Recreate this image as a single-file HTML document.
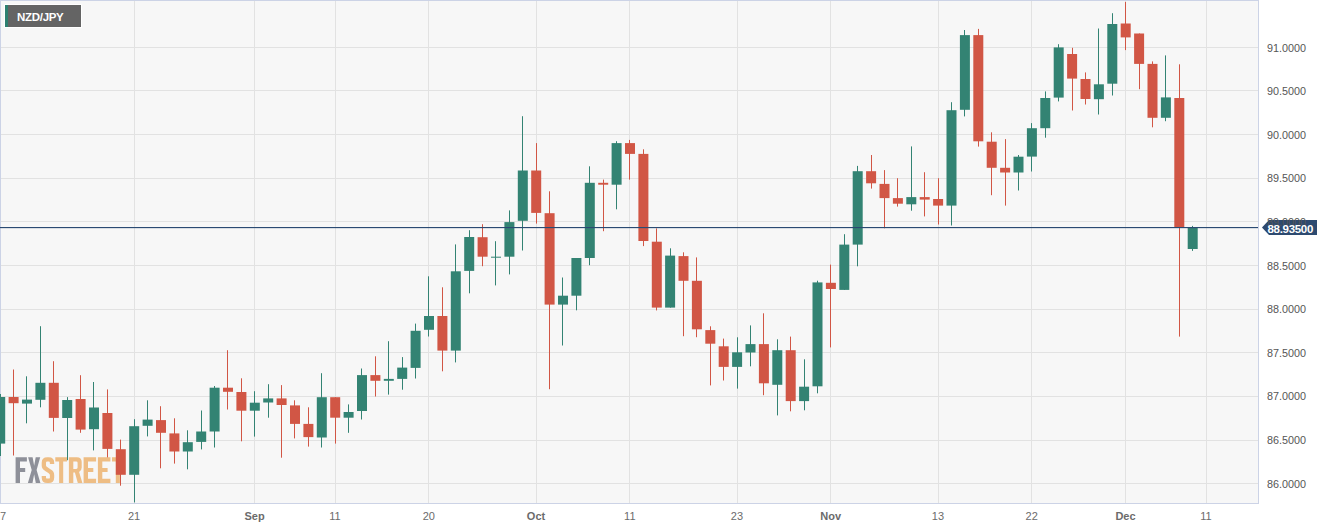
<!DOCTYPE html>
<html><head><meta charset="utf-8"><style>
html,body{margin:0;padding:0;background:#fff;}
body{width:1323px;height:529px;position:relative;overflow:hidden;font-family:"Liberation Sans",sans-serif;}
svg{position:absolute;left:0;top:0;}
.yl{position:absolute;left:1267px;font-size:10.8px;line-height:14px;color:#555;}
.xl{position:absolute;top:509px;width:60px;text-align:center;font-size:11px;line-height:14px;color:#6b6b6b;}
.xl.b{font-weight:bold;}
.tag{position:absolute;left:4px;top:4px;width:78px;height:24px;background:#646464;border:1px solid #fff;box-sizing:border-box;}
.tag i{position:absolute;left:0;top:0;width:3px;height:22px;background:#2e8070;}
.tag span{position:absolute;left:12px;top:6px;font-size:11.5px;font-weight:bold;color:#fff;line-height:13px;letter-spacing:-0.3px;}
.plab{position:absolute;left:1262px;top:220px;width:55px;height:15px;}
.plab span{position:absolute;left:5.5px;top:3px;font-size:11.5px;letter-spacing:-0.3px;font-weight:bold;color:#fff;line-height:13px;}
</style></head><body>
<svg width="1323" height="529" viewBox="0 0 1323 529">
<rect x="0" y="0" width="1258" height="503" fill="#f7f7f7"/>
<g stroke="#e2e2e2" stroke-width="1"><line x1="0" y1="47.5" x2="1258" y2="47.5"/><line x1="0" y1="90.5" x2="1258" y2="90.5"/><line x1="0" y1="134.5" x2="1258" y2="134.5"/><line x1="0" y1="178.5" x2="1258" y2="178.5"/><line x1="0" y1="221.5" x2="1258" y2="221.5"/><line x1="0" y1="265.5" x2="1258" y2="265.5"/><line x1="0" y1="309.5" x2="1258" y2="309.5"/><line x1="0" y1="352.5" x2="1258" y2="352.5"/><line x1="0" y1="396.5" x2="1258" y2="396.5"/><line x1="0" y1="440.5" x2="1258" y2="440.5"/><line x1="0" y1="483.5" x2="1258" y2="483.5"/><line x1="134.5" y1="0" x2="134.5" y2="503"/><line x1="254.5" y1="0" x2="254.5" y2="503"/><line x1="335.5" y1="0" x2="335.5" y2="503"/><line x1="428.5" y1="0" x2="428.5" y2="503"/><line x1="536.5" y1="0" x2="536.5" y2="503"/><line x1="629.5" y1="0" x2="629.5" y2="503"/><line x1="737.5" y1="0" x2="737.5" y2="503"/><line x1="830.5" y1="0" x2="830.5" y2="503"/><line x1="938.5" y1="0" x2="938.5" y2="503"/><line x1="1031.5" y1="0" x2="1031.5" y2="503"/><line x1="1125.5" y1="0" x2="1125.5" y2="503"/><line x1="1206.5" y1="0" x2="1206.5" y2="503"/></g>
<g fill="#8e9099"><path d="M15.6 457.2h11.3v4.2h-6.9v6.7h5.2v3.8h-5.2v11h-4.4z"/><path d="M28.1 457.2h4.5l1.55 8.6l1.55-8.6h4.5l-3.6 12.7l3.8 13h-4.6l-1.65-8.6l-1.65 8.6h-4.6l3.8-13z"/></g><g fill="#eebd84" stroke="#eebd84"><path fill="none" stroke-width="4.3" d="M52.050000000000004 464v-1.3q0-3.35-3.35-3.35h-1.5q-3.35 0-3.35 3.35v2.8q0 2.2 2.2 3.4l3.8 2.6q2.2 1.2 2.2 3.4v2.5q0 3.35-3.35 3.35h-1.5q-3.35 0-3.35-3.35v-1.5"/></g><g fill="#eebd84"><path d="M55.3 457.2h11.7v4.2h-3.8v21.5h-4.1v-21.5h-3.8z"/><path d="M68.9 457.2h8q4.8 0 4.8 4.8v5.6q0 3.2-2.6 4.3l3.3 11h-4.6l-2.9-10.4h-1.6v10.4h-4.4zM73.30000000000001 461.4v7.5h2.9q1.4 0 1.4-1.4v-4.7q0-1.4-1.4-1.4z"/><path d="M83.6 457.2h12.5v4.2h-8.1v6.7h5.3v3.8h-5.3v6.8h8.1v4.2h-12.5z"/><path d="M97.9 457.2h12.5v4.2h-8.1v6.7h5.3v3.8h-5.3v6.8h8.1v4.2h-12.5z"/><path d="M112 457.2h11.7v4.2h-3.8v21.5h-4.1v-21.5h-3.8z"/></g>
<rect x="0.5" y="0.5" width="1258" height="503" fill="none" stroke="#ccd3e6" stroke-width="1"/>
<rect x="0.0" y="394.0" width="1" height="62.0" fill="#338373"/><rect x="-4.8" y="397.0" width="10" height="46.6" fill="#338373"/><rect x="13.0" y="369.5" width="1" height="86.0" fill="#d15645"/><rect x="8.6" y="397.0" width="10" height="6.2" fill="#d15645"/><rect x="26.0" y="376.3" width="1" height="47.0" fill="#338373"/><rect x="22.0" y="399.6" width="10" height="4.0" fill="#338373"/><rect x="40.0" y="326.2" width="1" height="81.1" fill="#338373"/><rect x="35.4" y="382.8" width="10" height="17.0" fill="#338373"/><rect x="53.0" y="361.2" width="1" height="70.3" fill="#d15645"/><rect x="48.8" y="382.8" width="10" height="35.1" fill="#d15645"/><rect x="67.0" y="397.1" width="1" height="63.1" fill="#338373"/><rect x="62.2" y="400.0" width="10" height="18.0" fill="#338373"/><rect x="80.0" y="375.2" width="1" height="57.6" fill="#d15645"/><rect x="75.6" y="399.0" width="10" height="30.6" fill="#d15645"/><rect x="93.0" y="382.0" width="1" height="68.4" fill="#338373"/><rect x="89.0" y="407.5" width="10" height="21.7" fill="#338373"/><rect x="107.0" y="389.4" width="1" height="68.0" fill="#d15645"/><rect x="102.4" y="413.0" width="10" height="35.9" fill="#d15645"/><rect x="120.0" y="439.6" width="1" height="46.1" fill="#d15645"/><rect x="115.8" y="449.2" width="10" height="25.6" fill="#d15645"/><rect x="134.0" y="419.2" width="1" height="83.2" fill="#338373"/><rect x="129.2" y="426.2" width="10" height="48.6" fill="#338373"/><rect x="147.0" y="400.3" width="1" height="36.1" fill="#338373"/><rect x="142.6" y="419.6" width="10" height="6.2" fill="#338373"/><rect x="160.0" y="406.2" width="1" height="62.1" fill="#d15645"/><rect x="156.0" y="420.1" width="10" height="12.7" fill="#d15645"/><rect x="174.0" y="418.3" width="1" height="45.3" fill="#d15645"/><rect x="169.4" y="433.4" width="10" height="18.1" fill="#d15645"/><rect x="187.0" y="430.3" width="1" height="39.0" fill="#338373"/><rect x="182.8" y="442.2" width="10" height="9.3" fill="#338373"/><rect x="201.0" y="410.5" width="1" height="38.9" fill="#338373"/><rect x="196.2" y="431.5" width="10" height="10.4" fill="#338373"/><rect x="214.0" y="386.0" width="1" height="61.5" fill="#338373"/><rect x="209.6" y="387.7" width="10" height="43.8" fill="#338373"/><rect x="227.0" y="350.2" width="1" height="59.3" fill="#d15645"/><rect x="223.0" y="387.7" width="10" height="4.1" fill="#d15645"/><rect x="241.0" y="378.3" width="1" height="63.0" fill="#d15645"/><rect x="236.4" y="392.0" width="10" height="18.7" fill="#d15645"/><rect x="254.0" y="391.2" width="1" height="45.4" fill="#338373"/><rect x="249.8" y="402.7" width="10" height="8.0" fill="#338373"/><rect x="268.0" y="384.2" width="1" height="33.5" fill="#338373"/><rect x="263.2" y="398.4" width="10" height="4.1" fill="#338373"/><rect x="281.0" y="385.1" width="1" height="72.6" fill="#d15645"/><rect x="276.6" y="398.4" width="10" height="6.6" fill="#d15645"/><rect x="294.0" y="400.3" width="1" height="38.1" fill="#d15645"/><rect x="290.0" y="405.4" width="10" height="18.5" fill="#d15645"/><rect x="308.0" y="407.3" width="1" height="39.3" fill="#d15645"/><rect x="303.4" y="423.9" width="10" height="13.2" fill="#d15645"/><rect x="321.0" y="373.2" width="1" height="74.3" fill="#338373"/><rect x="316.8" y="397.2" width="10" height="40.3" fill="#338373"/><rect x="335.0" y="397.2" width="1" height="46.4" fill="#d15645"/><rect x="330.2" y="397.2" width="10" height="20.5" fill="#d15645"/><rect x="348.0" y="404.4" width="1" height="28.4" fill="#338373"/><rect x="343.6" y="412.0" width="10" height="5.7" fill="#338373"/><rect x="361.0" y="368.5" width="1" height="51.0" fill="#338373"/><rect x="357.0" y="375.1" width="10" height="35.9" fill="#338373"/><rect x="375.0" y="356.3" width="1" height="40.2" fill="#d15645"/><rect x="370.4" y="375.1" width="10" height="5.7" fill="#d15645"/><rect x="388.0" y="341.2" width="1" height="53.4" fill="#338373"/><rect x="383.8" y="378.9" width="10" height="1.9" fill="#338373"/><rect x="402.0" y="357.1" width="1" height="32.6" fill="#338373"/><rect x="397.2" y="367.6" width="10" height="11.3" fill="#338373"/><rect x="415.0" y="323.6" width="1" height="54.9" fill="#338373"/><rect x="410.6" y="330.8" width="10" height="37.1" fill="#338373"/><rect x="428.0" y="276.3" width="1" height="60.2" fill="#338373"/><rect x="424.0" y="316.0" width="10" height="13.8" fill="#338373"/><rect x="442.0" y="287.3" width="1" height="84.0" fill="#d15645"/><rect x="437.4" y="316.0" width="10" height="34.6" fill="#d15645"/><rect x="455.0" y="244.4" width="1" height="118.0" fill="#338373"/><rect x="450.8" y="271.3" width="10" height="79.3" fill="#338373"/><rect x="469.0" y="230.2" width="1" height="63.1" fill="#338373"/><rect x="464.2" y="237.0" width="10" height="33.9" fill="#338373"/><rect x="482.0" y="224.2" width="1" height="42.0" fill="#d15645"/><rect x="477.6" y="237.2" width="10" height="19.5" fill="#d15645"/><rect x="495.0" y="241.2" width="1" height="44.2" fill="#338373"/><rect x="491.0" y="256.7" width="10" height="1.0" fill="#338373"/><rect x="509.0" y="210.4" width="1" height="64.0" fill="#338373"/><rect x="504.4" y="222.1" width="10" height="34.6" fill="#338373"/><rect x="522.0" y="116.2" width="1" height="134.3" fill="#338373"/><rect x="517.8" y="170.5" width="10" height="50.3" fill="#338373"/><rect x="536.0" y="143.1" width="1" height="80.5" fill="#d15645"/><rect x="531.2" y="170.5" width="10" height="42.4" fill="#d15645"/><rect x="549.0" y="191.3" width="1" height="197.9" fill="#d15645"/><rect x="544.6" y="213.2" width="10" height="91.4" fill="#d15645"/><rect x="562.0" y="277.5" width="1" height="68.0" fill="#338373"/><rect x="558.0" y="295.7" width="10" height="8.9" fill="#338373"/><rect x="576.0" y="258.0" width="1" height="52.3" fill="#338373"/><rect x="571.4" y="258.0" width="10" height="37.7" fill="#338373"/><rect x="589.0" y="166.3" width="1" height="98.9" fill="#338373"/><rect x="584.8" y="182.8" width="10" height="75.2" fill="#338373"/><rect x="603.0" y="179.6" width="1" height="51.6" fill="#d15645"/><rect x="598.2" y="182.8" width="10" height="1.9" fill="#d15645"/><rect x="616.0" y="141.2" width="1" height="68.1" fill="#338373"/><rect x="611.6" y="143.1" width="10" height="41.6" fill="#338373"/><rect x="629.0" y="139.9" width="1" height="39.7" fill="#d15645"/><rect x="625.0" y="143.1" width="10" height="10.8" fill="#d15645"/><rect x="643.0" y="149.3" width="1" height="96.8" fill="#d15645"/><rect x="638.4" y="153.9" width="10" height="87.1" fill="#d15645"/><rect x="656.0" y="228.4" width="1" height="82.0" fill="#d15645"/><rect x="651.8" y="241.7" width="10" height="65.9" fill="#d15645"/><rect x="670.0" y="248.3" width="1" height="59.3" fill="#338373"/><rect x="665.1" y="255.6" width="10" height="52.0" fill="#338373"/><rect x="683.0" y="252.3" width="1" height="83.9" fill="#d15645"/><rect x="678.5" y="256.1" width="10" height="24.7" fill="#d15645"/><rect x="696.0" y="257.4" width="1" height="79.8" fill="#d15645"/><rect x="691.9" y="280.8" width="10" height="48.5" fill="#d15645"/><rect x="710.0" y="326.3" width="1" height="59.1" fill="#d15645"/><rect x="705.3" y="330.1" width="10" height="13.6" fill="#d15645"/><rect x="723.0" y="338.6" width="1" height="41.9" fill="#d15645"/><rect x="718.7" y="346.3" width="10" height="20.6" fill="#d15645"/><rect x="737.0" y="337.3" width="1" height="51.3" fill="#338373"/><rect x="732.1" y="352.3" width="10" height="14.6" fill="#338373"/><rect x="750.0" y="325.4" width="1" height="40.9" fill="#338373"/><rect x="745.5" y="344.1" width="10" height="8.4" fill="#338373"/><rect x="763.0" y="313.3" width="1" height="81.9" fill="#d15645"/><rect x="758.9" y="344.1" width="10" height="39.2" fill="#d15645"/><rect x="777.0" y="339.3" width="1" height="76.1" fill="#338373"/><rect x="772.3" y="350.2" width="10" height="34.6" fill="#338373"/><rect x="790.0" y="336.6" width="1" height="74.7" fill="#d15645"/><rect x="785.7" y="350.2" width="10" height="50.9" fill="#d15645"/><rect x="804.0" y="359.3" width="1" height="51.0" fill="#338373"/><rect x="799.1" y="386.7" width="10" height="14.4" fill="#338373"/><rect x="817.0" y="280.7" width="1" height="112.6" fill="#338373"/><rect x="812.5" y="282.4" width="10" height="103.9" fill="#338373"/><rect x="830.0" y="264.6" width="1" height="82.8" fill="#d15645"/><rect x="825.9" y="282.8" width="10" height="6.2" fill="#d15645"/><rect x="844.0" y="234.2" width="1" height="55.7" fill="#338373"/><rect x="839.3" y="244.6" width="10" height="45.3" fill="#338373"/><rect x="857.0" y="165.9" width="1" height="100.4" fill="#338373"/><rect x="852.7" y="171.2" width="10" height="73.4" fill="#338373"/><rect x="871.0" y="155.0" width="1" height="33.6" fill="#d15645"/><rect x="866.1" y="171.2" width="10" height="12.1" fill="#d15645"/><rect x="884.0" y="170.1" width="1" height="58.2" fill="#d15645"/><rect x="879.5" y="183.9" width="10" height="14.2" fill="#d15645"/><rect x="897.0" y="178.2" width="1" height="28.4" fill="#d15645"/><rect x="892.9" y="198.1" width="10" height="5.6" fill="#d15645"/><rect x="911.0" y="146.4" width="1" height="64.3" fill="#338373"/><rect x="906.3" y="197.1" width="10" height="7.2" fill="#338373"/><rect x="924.0" y="172.2" width="1" height="44.2" fill="#d15645"/><rect x="919.7" y="197.1" width="10" height="2.5" fill="#d15645"/><rect x="938.0" y="178.2" width="1" height="46.3" fill="#d15645"/><rect x="933.1" y="199.0" width="10" height="6.6" fill="#d15645"/><rect x="951.0" y="102.2" width="1" height="123.3" fill="#338373"/><rect x="946.5" y="110.2" width="10" height="95.4" fill="#338373"/><rect x="964.0" y="30.0" width="1" height="86.4" fill="#338373"/><rect x="959.9" y="35.1" width="10" height="74.7" fill="#338373"/><rect x="978.0" y="28.9" width="1" height="117.7" fill="#d15645"/><rect x="973.3" y="35.1" width="10" height="106.2" fill="#d15645"/><rect x="991.0" y="132.3" width="1" height="62.9" fill="#d15645"/><rect x="986.7" y="141.7" width="10" height="26.1" fill="#d15645"/><rect x="1005.0" y="139.1" width="1" height="66.5" fill="#d15645"/><rect x="1000.1" y="167.8" width="10" height="4.7" fill="#d15645"/><rect x="1018.0" y="155.0" width="1" height="35.5" fill="#338373"/><rect x="1013.5" y="156.7" width="10" height="15.8" fill="#338373"/><rect x="1031.0" y="123.1" width="1" height="48.4" fill="#338373"/><rect x="1026.9" y="128.2" width="10" height="28.4" fill="#338373"/><rect x="1045.0" y="91.4" width="1" height="46.3" fill="#338373"/><rect x="1040.3" y="98.0" width="10" height="30.2" fill="#338373"/><rect x="1058.0" y="44.2" width="1" height="57.2" fill="#338373"/><rect x="1053.7" y="47.4" width="10" height="50.2" fill="#338373"/><rect x="1072.0" y="47.8" width="1" height="62.7" fill="#d15645"/><rect x="1067.1" y="54.0" width="10" height="24.6" fill="#d15645"/><rect x="1085.0" y="72.4" width="1" height="32.1" fill="#d15645"/><rect x="1080.5" y="79.0" width="10" height="20.0" fill="#d15645"/><rect x="1098.0" y="28.5" width="1" height="86.0" fill="#338373"/><rect x="1093.9" y="84.3" width="10" height="14.9" fill="#338373"/><rect x="1112.0" y="13.2" width="1" height="82.3" fill="#338373"/><rect x="1107.3" y="24.0" width="10" height="59.7" fill="#338373"/><rect x="1125.0" y="1.9" width="1" height="48.2" fill="#d15645"/><rect x="1120.7" y="23.5" width="10" height="13.9" fill="#d15645"/><rect x="1139.0" y="33.5" width="1" height="55.7" fill="#d15645"/><rect x="1134.1" y="33.5" width="10" height="30.4" fill="#d15645"/><rect x="1152.0" y="61.4" width="1" height="65.9" fill="#d15645"/><rect x="1147.5" y="63.9" width="10" height="53.9" fill="#d15645"/><rect x="1165.0" y="55.4" width="1" height="65.8" fill="#338373"/><rect x="1160.9" y="97.4" width="10" height="20.4" fill="#338373"/><rect x="1179.0" y="64.3" width="1" height="272.3" fill="#d15645"/><rect x="1174.3" y="98.0" width="10" height="129.2" fill="#d15645"/><rect x="1192.0" y="225.9" width="1" height="25.0" fill="#338373"/><rect x="1187.7" y="227.8" width="10" height="21.2" fill="#338373"/>
<rect x="0" y="227" width="1258" height="1.15" fill="#2a4a72"/>
<path d="M1262 227.5 L1269 220 L1317 220 L1317 235 L1269 235 Z" fill="#2d4a70"/>
</svg>
<div class="yl" style="top:40.6px">91.0000</div><div class="yl" style="top:84.2px">90.5000</div><div class="yl" style="top:127.8px">90.0000</div><div class="yl" style="top:171.4px">89.5000</div><div class="yl" style="top:215.0px">89.0000</div><div class="yl" style="top:258.6px">88.5000</div><div class="yl" style="top:302.2px">88.0000</div><div class="yl" style="top:345.7px">87.5000</div><div class="yl" style="top:389.3px">87.0000</div><div class="yl" style="top:432.9px">86.5000</div><div class="yl" style="top:476.5px">86.0000</div>
<div class="xl" style="left:-30.0px">17</div><div class="xl" style="left:104.0px">21</div><div class="xl b" style="left:224.6px">Sep</div><div class="xl" style="left:305.0px">11</div><div class="xl" style="left:398.8px">20</div><div class="xl b" style="left:506.0px">Oct</div><div class="xl" style="left:599.8px">11</div><div class="xl" style="left:706.9px">23</div><div class="xl b" style="left:800.7px">Nov</div><div class="xl" style="left:907.9px">13</div><div class="xl" style="left:1001.7px">22</div><div class="xl b" style="left:1095.5px">Dec</div><div class="xl" style="left:1175.9px">11</div>
<div class="tag"><i></i><span>NZD/JPY</span></div>
<div class="plab"><span>88.93500</span></div>
</body></html>
